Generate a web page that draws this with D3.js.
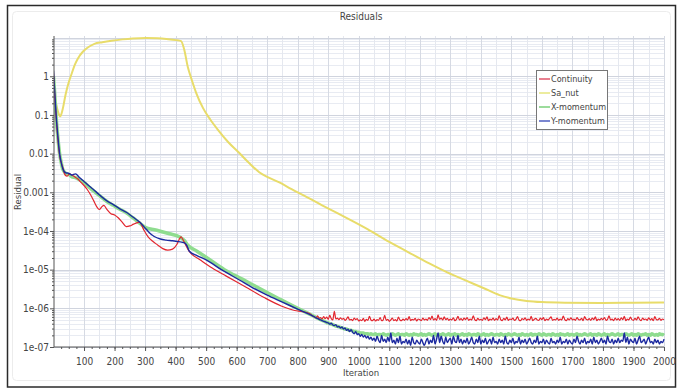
<!DOCTYPE html>
<html><head><meta charset="utf-8">
<script src="https://cdn.jsdelivr.net/npm/d3@7"></script>
<style>
body{margin:0;background:#fff}
svg{display:block}
text{font-family:"Liberation Sans Narrow","DejaVu Sans Condensed",sans-serif;fill:#444}
</style>
</head><body>
<svg id="c" width="681" height="390"></svg>
<script>
// ---------------- DATA ----------------
const seriesNames = ["Continuity", "Sa_nut", "X-momentum", "Y-momentum"];
const xTickLabels = d3.range(100, 2001, 100);
const yTickValues = [1, 0.1, 0.01, 0.001, 1e-4, 1e-5, 1e-6, 1e-7];
const yTickLabels = ["1", "0.1", "0.01", "0.001", "1e-04", "1e-05", "1e-06", "1e-07"];

// Sa_nut (smooth)
const sanutIter = [1,8,15,22,30,40,50,60,70,80,96,110,134,160,190,226,260,304,340,370,402,418,428,440,452,467,490,514,540,572,608,640,674,700,740,780,830,880,930,980,1030,1100,1160,1231,1290,1352,1410,1461,1500,1550,1600,1680,1800,1900,2000];
const sanutVal = [0.4,0.2,0.12,0.092,0.14,0.35,0.7,1.2,2.0,2.9,4.3,5.4,6.9,7.6,8.3,9.0,9.5,9.8,9.6,9.2,8.6,8.1,5.0,1.74,0.85,0.38,0.15,0.075,0.04,0.02,0.0105,0.0058,0.0033,0.0025,0.0018,0.0012,7.5e-4,4.6e-4,2.9e-4,1.8e-4,1.1e-4,5.2e-5,2.9e-5,1.45e-5,8.5e-6,5.2e-6,3.3e-6,2.2e-6,1.8e-6,1.55e-6,1.45e-6,1.4e-6,1.38e-6,1.4e-6,1.42e-6];

// Continuity head (before the noisy tail)
const contIter = [0,4,9,14,20,30,38,45,52,60,70,80,90,100,110,120,132,142,150,158,165,175,188,200,212,225,238,250,262,275,282,295,310,325,342,358,374,390,405,414,418,424,432,440,451,480,520,566,631,690,746,790,817,840];
const contVal = [1.2,0.35,0.08,0.025,0.009,0.0045,0.0028,0.0026,0.003,0.0028,0.0025,0.0022,0.0018,0.0015,0.0012,9e-4,6e-4,4.2e-4,3.6e-4,4.2e-4,4.6e-4,3.6e-4,2.8e-4,2.6e-4,2.2e-4,1.7e-4,1.3e-4,1.35e-4,1.5e-4,1.65e-4,1.7e-4,1.1e-4,7e-5,5.4e-5,4.3e-5,3.5e-5,3.2e-5,3.4e-5,4.6e-5,6.5e-5,7e-5,6e-5,4.5e-5,3.4e-5,2.6e-5,1.8e-5,1.1e-5,6.8e-6,3.5e-6,1.9e-6,1.15e-6,8.8e-7,8.2e-7,7.2e-7];

// X-momentum head
const xmIter = [0,4,9,14,20,25,30,40,50,60,72,85,100,115,130,151,175,196,216,240,260,282,304,325,347,380,413,430,440,470,500,560,620,680,740,800];
const xmVal = [1.0,0.35,0.08,0.028,0.01,0.006,0.004,0.0031,0.0029,0.0025,0.0024,0.0021,0.0018,0.0014,0.0011,8.2e-4,5.8e-4,4.6e-4,3.7e-4,2.9e-4,2.2e-4,1.6e-4,1.2e-4,1.1e-4,1.0e-4,8.5e-5,7e-5,5.5e-5,4.3e-5,3e-5,2.1e-5,1e-5,5.6e-6,3.1e-6,1.75e-6,1.0e-6];

// Y-momentum head
const ymIter = [0,4,9,14,20,25,30,40,50,60,72,85,100,115,130,151,175,196,216,240,260,282,300,314,330,350,369,390,410,429,437,445,470,500,550,609,650,700,750,800];
const ymVal = [1.4,0.4,0.09,0.03,0.01,0.006,0.0042,0.0032,0.0031,0.0028,0.003,0.0024,0.0019,0.0015,0.0012,8.5e-4,6e-4,4.8e-4,3.8e-4,3e-4,2.3e-4,1.7e-4,1.2e-4,9e-5,7.2e-5,6.2e-5,5.8e-5,5.6e-5,5.3e-5,4.9e-5,4.2e-5,3e-5,2.3e-5,1.8e-5,1e-5,5.4e-6,3.5e-6,2.2e-6,1.45e-6,9.5e-7];

// Noisy tails: iterations 850..2000 every 5, values in units of 1e-7
const tailStart = 850, tailStep = 5, tailEnd = 2000, tailUnit = 1e-7;
const contTail = [
6.3,6.0,5.6,6.4,5.5,5.8,5.3,6.1,5.4,5.9,
5.2,6.6,5.4,5.0,8.4,5.3,5.6,5.1,5.7,5.2,
5.5,4.9,5.3,6.0,5.0,5.2,4.8,5.6,5.1,5.4,
4.7,5.0,4.8,5.5,4.6,5.2,4.9,6.2,5.0,4.8,
5.3,4.7,5.1,4.9,5.8,4.8,5.0,6.6,4.9,5.2,
4.6,5.0,5.6,4.8,5.1,4.7,5.9,5.0,4.8,5.3,
4.9,5.4,5.0,6.1,4.8,5.2,5.0,5.5,4.7,5.3,
5.1,4.8,5.6,5.0,5.3,4.9,5.8,5.1,6.3,5.0,
5.4,4.9,6.8,5.2,5.6,5.0,6.0,5.1,5.5,4.9,
5.3,5.0,5.7,4.8,5.2,6.2,5.0,5.4,4.9,5.6,
5.1,5.8,4.9,5.3,5.0,6.4,5.1,4.8,5.5,5.0,
5.2,4.9,5.7,5.1,6.0,4.8,5.3,5.0,5.6,4.9,
5.4,5.0,6.5,5.1,4.8,5.5,5.0,5.9,4.9,5.3,
5.1,5.6,4.9,5.2,6.1,5.0,4.8,5.4,5.1,5.7,
4.9,5.3,5.0,6.2,4.8,5.2,5.5,5.0,4.9,5.6,
5.1,5.8,4.8,5.3,5.0,5.5,6.0,4.9,5.2,5.0,
5.6,4.9,5.3,5.0,6.3,5.1,4.8,5.4,5.0,5.7,
5.0,5.3,4.9,5.8,5.1,5.0,5.5,4.8,6.1,5.2,
5.0,5.4,4.9,5.6,5.1,6.0,4.8,5.3,5.0,5.5,
5.1,5.8,4.9,5.2,6.4,5.0,5.3,4.8,5.6,5.0,
5.4,4.9,5.7,5.1,6.2,4.8,5.3,5.0,5.9,5.1,
4.9,5.5,5.0,6.0,5.2,4.8,5.6,5.1,5.3,4.9,
5.7,5.0,5.4,4.8,6.1,5.1,5.0,5.5,4.9,5.3,
5.1];
const xmTail = [
6.4,6.1,5.8,5.6,5.3,5.1,4.9,4.7,4.5,4.3,
4.2,4.0,3.9,3.8,3.6,3.5,3.4,3.3,3.2,3.1,
3.0,2.9,2.9,2.8,2.7,2.7,2.6,2.5,2.5,2.4,
2.4,2.3,2.3,2.3,2.2,2.2,2.2,2.1,2.2,2.1,
2.1,2.2,2.0,2.1,2.1,2.0,2.2,2.1,2.0,2.1,
2.1,2.0,2.2,2.1,2.0,2.1,2.2,2.0,2.1,2.1,
2.0,2.2,2.1,2.0,2.1,2.0,2.2,2.1,2.1,2.0,
2.1,2.2,2.0,2.1,2.0,2.1,2.2,2.1,2.0,2.1,
2.2,2.0,2.1,2.1,2.0,2.2,2.1,2.0,2.1,2.2,
2.0,2.1,2.1,2.2,2.0,2.1,2.0,2.1,2.2,2.0,
2.1,2.0,2.2,2.1,2.0,2.1,2.1,2.0,2.2,2.1,
2.0,2.1,2.2,2.0,2.1,2.0,2.1,2.2,2.1,2.0,
2.1,2.1,2.0,2.2,2.1,2.0,2.1,2.0,2.2,2.1,
2.0,2.1,2.2,2.1,2.0,2.1,2.0,2.2,2.1,2.0,
2.1,2.0,2.1,2.2,2.0,2.1,2.1,2.0,2.2,2.1,
2.0,2.2,2.1,2.0,2.1,2.1,2.0,2.2,2.1,2.0,
2.1,2.0,2.2,2.1,2.1,2.0,2.1,2.2,2.0,2.1,
2.1,2.0,2.1,2.2,2.0,2.1,2.0,2.1,2.2,2.1,
2.0,2.1,2.2,2.0,2.1,2.1,2.0,2.2,2.1,2.0,
2.1,2.2,2.0,2.1,2.0,2.1,2.2,2.1,2.0,2.1,
2.2,2.0,2.1,2.1,2.0,2.2,2.1,2.0,2.1,2.2,
2.0,2.1,2.0,2.2,2.1,2.0,2.1,2.1,2.2,2.0,
2.1,2.0,2.2,2.1,2.0,2.1,2.0,2.2,2.1,2.1,
2.0];
const ymTail = [
6.3,6.0,5.7,5.5,5.2,5.0,4.8,4.6,4.5,4.3,
4.2,3.9,4.1,3.7,3.6,3.8,3.3,3.4,3.1,3.3,
2.9,3.1,2.7,2.9,2.5,2.8,2.4,2.2,2.5,2.1,
2.2,1.9,2.1,1.8,2.0,1.7,1.9,1.6,1.8,1.5,
1.7,1.4,1.9,1.5,1.3,2.0,1.4,1.6,1.3,1.8,
1.4,2.3,1.3,1.5,1.2,1.7,1.3,1.9,1.2,1.4,
1.3,1.6,1.2,1.5,1.1,1.8,1.3,1.2,1.5,1.3,
1.2,1.6,1.3,1.1,1.4,1.7,1.2,1.5,1.3,2.0,
1.2,1.6,2.3,1.3,1.9,1.4,1.2,1.8,1.3,1.5,
1.7,1.2,1.9,1.4,1.3,2.0,1.3,1.6,1.2,1.5,
1.3,1.7,1.2,1.4,1.8,1.3,1.2,1.6,1.3,1.9,
1.2,1.5,1.3,1.7,1.2,1.4,1.6,1.2,1.8,1.3,
1.4,1.2,1.6,1.3,1.5,1.2,1.9,1.3,1.2,1.5,
1.3,1.7,1.2,1.4,1.3,1.8,1.2,1.5,1.3,1.6,
1.2,1.4,1.7,1.3,1.2,1.5,1.3,1.9,1.2,1.4,
1.3,1.6,1.2,1.5,1.3,1.2,1.7,1.3,1.4,1.2,
1.5,1.3,1.8,1.2,1.4,1.3,1.6,1.2,1.5,1.3,
1.2,1.6,1.3,1.9,1.4,1.2,1.5,1.3,1.7,1.2,
1.4,1.3,1.6,1.2,1.8,1.3,1.5,1.2,1.4,1.7,
1.3,1.5,1.2,1.9,1.4,1.3,1.6,1.2,1.5,1.3,
1.7,1.3,1.5,1.4,2.3,1.3,1.8,1.2,1.6,1.4,
1.3,1.7,1.2,1.5,1.9,1.3,1.4,1.6,1.2,1.5,
1.8,1.3,1.4,1.2,1.6,1.3,1.5,1.2,1.4,1.3,
1.6];

const colors = {"Continuity":"#e2262f","Sa_nut":"#e8dc6a","X-momentum":"#8fdc8f","Y-momentum":"#1c2aa0"};
const legendColors = {"Continuity":"#e88090","Sa_nut":"#ecec9e","X-momentum":"#9cdc9c","Y-momentum":"#7a86d0"};

// ---------------- BUILD ----------------
const tailIter = d3.range(tailStart, tailEnd + 1, tailStep);
function build(iters, vals, tail) {
  const pts = iters.map((it, k) => ({i: it, v: vals[k]}));
  if (tail) tail.forEach((t, k) => { if (k < tailIter.length) pts.push({i: tailIter[k], v: t * tailUnit}); });
  return pts;
}
const data = {
  "Sa_nut": build(sanutIter, sanutVal, null),
  "X-momentum": build(xmIter, xmVal, xmTail),
  "Continuity": build(contIter, contVal, contTail),
  "Y-momentum": build(ymIter, ymVal, ymTail)
};

const svg = d3.select("#c");
const L = 54, R = 664, T = 36, B = 347;
const x = d3.scaleLinear().domain([0, 2000]).range([53.5, R]);
const y = d3.scaleLog().domain([1e-7, 11]).range([B, T]);

// frame
svg.append("rect").attr("x", 0).attr("y", 0).attr("width", 681).attr("height", 390).attr("fill", "#fff");
svg.append("rect").attr("x", 12.5).attr("y", 11.5).attr("width", 658).attr("height", 369)
  .attr("rx", 4).attr("fill", "none").attr("stroke", "#ececec");
svg.append("rect").attr("x", 7.5).attr("y", 5.5).attr("width", 668).attr("height", 381.5)
  .attr("fill", "none").attr("stroke", "#2a2a2a").attr("stroke-width", 1.5);

// grid
const g = svg.append("g");
const minorY = [];
for (let e = -7; e <= 1; e++) for (let m = 2; m <= 9; m++) { const v = m * Math.pow(10, e); if (v <= 11) minorY.push(v); }
const majorY = [1e-7,1e-6,1e-5,1e-4,1e-3,1e-2,1e-1,1,10];
g.selectAll(".gy2").data(minorY).enter().append("line")
  .attr("x1", L).attr("x2", R).attr("y1", d => Math.round(y(d)) + 0.5).attr("y2", d => Math.round(y(d)) + 0.5)
  .attr("stroke", "#e8ebf2").attr("stroke-width", 1);
const vGrid = d3.range(50, 2001, 50);
g.selectAll(".gx").data(vGrid).enter().append("line")
  .attr("y1", T).attr("y2", B).attr("x1", d => Math.round(x(d)) + 0.5).attr("x2", d => Math.round(x(d)) + 0.5)
  .attr("stroke", d => d % 100 === 0 ? "#d6dae3" : "#e5e8ef").attr("stroke-width", 1);
g.selectAll(".gy").data(majorY).enter().append("line")
  .attr("x1", L).attr("x2", R).attr("y1", d => Math.round(y(d)) + 0.5).attr("y2", d => Math.round(y(d)) + 0.5)
  .attr("stroke", "#d0d4de").attr("stroke-width", 1);

// lines
svg.append("clipPath").attr("id", "clip").append("rect")
  .attr("x", L).attr("y", T - 2).attr("width", R - L + 1).attr("height", B - T + 2);
const line = d3.line().x(d => x(d.i)).y(d => y(d.v)).curve(d3.curveMonotoneX);
const widths = {"Sa_nut": 2, "X-momentum": 3.5, "Continuity": 1.2, "Y-momentum": 1.4};
const lg = svg.append("g").attr("clip-path", "url(#clip)");
["Sa_nut", "X-momentum", "Continuity", "Y-momentum"].forEach(n => {
  lg.append("path").datum(data[n]).attr("d", line).attr("fill", "none")
    .attr("stroke", colors[n]).attr("stroke-width", widths[n]).attr("stroke-linejoin", "round");
});

// axes
const axisColor = "#555";
const yAxis = svg.append("g").attr("transform", `translate(${L},0)`)
  .call(d3.axisLeft(y).tickValues(yTickValues).tickSize(4).tickFormat((d, k) => yTickLabels[k]));
const yMinor = svg.append("g").attr("transform", `translate(${L},0)`)
  .call(d3.axisLeft(y).tickValues(minorY).tickSize(2).tickFormat(""));
const xAxis = svg.append("g").attr("transform", `translate(0,${B})`)
  .call(d3.axisBottom(x).tickValues(xTickLabels).tickSize(4).tickFormat(d3.format("d")));
const xMinor = svg.append("g").attr("transform", `translate(0,${B})`)
  .call(d3.axisBottom(x).tickValues(d3.range(25, 2001, 25)).tickSize(2).tickFormat(""));
[yAxis, yMinor, xAxis, xMinor].forEach(a => {
  a.select(".domain").attr("stroke", axisColor);
  a.selectAll(".tick line").attr("stroke", axisColor);
  a.selectAll("text").attr("fill", "#444").style("font-size", "10px")
    .style("font-family", '"Liberation Sans Narrow","DejaVu Sans Condensed",sans-serif');
});
yAxis.select(".domain").attr("d", `M0,${T}V${B}`);
yMinor.select(".domain").remove();
xMinor.select(".domain").remove();
xAxis.select(".domain").attr("d", `M${L},0H${R}`);
xAxis.selectAll("text").attr("dy", "0").attr("y", 18);
yAxis.selectAll("text").attr("x", -5);

// titles
svg.append("text").attr("x", 361).attr("y", 20).attr("text-anchor", "middle").style("font-size", "10px").text("Residuals");
svg.append("text").attr("x", 361).attr("y", 376).attr("text-anchor", "middle").style("font-size", "9.5px").text("Iteration");
svg.append("text").attr("transform", "translate(21,192) rotate(-90)").attr("text-anchor", "middle").style("font-size", "9.5px").text("Residual");

// legend
const leg = svg.append("g").attr("transform", "translate(536,70)");
leg.append("rect").attr("x", 0.5).attr("y", 0.5).attr("width", 71).attr("height", 59)
  .attr("fill", "#fff").attr("stroke", "#777").attr("stroke-width", 1);
seriesNames.forEach((n, k) => {
  const cy = 9 + k * 14;
  leg.append("line").attr("x1", 3).attr("x2", 14).attr("y1", cy).attr("y2", cy)
    .attr("stroke", legendColors[n]).attr("stroke-width", 2);
  leg.append("text").attr("x", 15).attr("y", cy + 3.3).style("font-size", "9px").attr("fill", "#555").text(n);
});
</script>
</body></html>
